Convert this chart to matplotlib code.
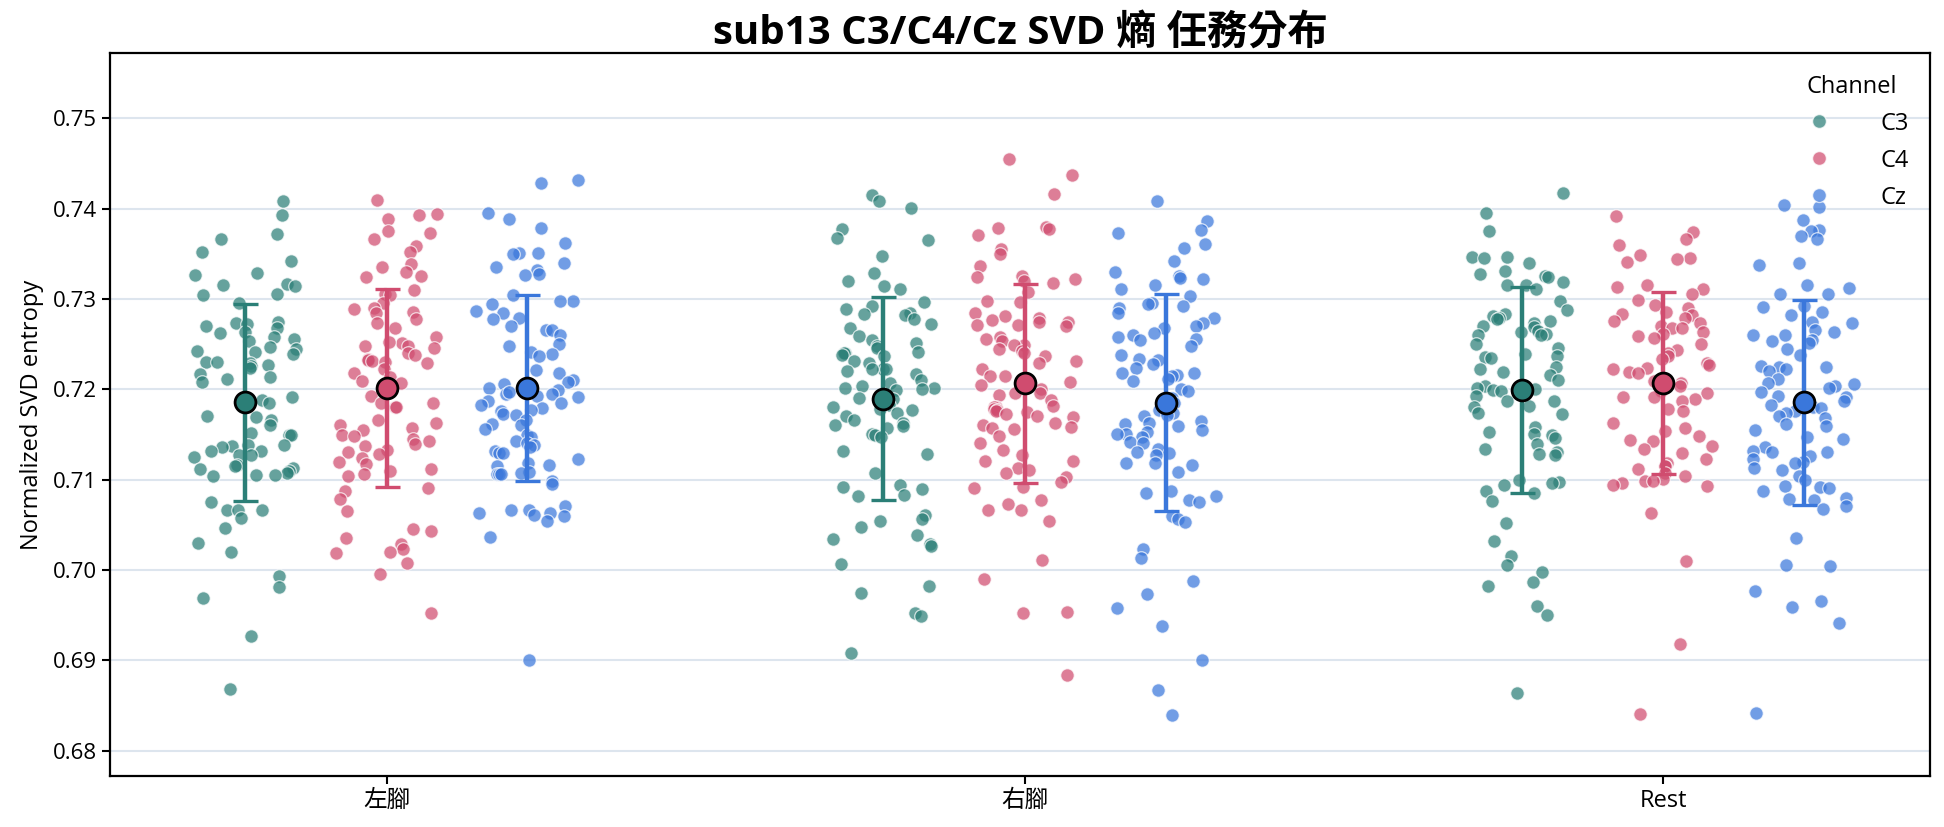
import matplotlib
matplotlib.use('Agg')
import matplotlib.pyplot as plt
from matplotlib.lines import Line2D
import numpy as np

plt.rcParams['font.family'] = ['Open Sans', 'Noto Sans CJK TC', 'DejaVu Sans']

tasks = ['左腳', '右腳', 'Rest']
channels = ['C3', 'C4', 'Cz']

# values, one list per task/channel
left_c3 = [0.7408, 0.7393, 0.7372, 0.7366, 0.7352, 0.7342, 0.7329, 0.7327, 0.7317, 0.7314,
           0.7315, 0.7306, 0.7305, 0.7296, 0.7275, 0.7273, 0.7272, 0.7270, 0.7268, 0.7264,
           0.7262, 0.7258, 0.7256, 0.7253, 0.7247, 0.7245, 0.7243, 0.7241, 0.7239, 0.7230,
           0.7230, 0.7229, 0.7227, 0.7226, 0.7224, 0.7217, 0.7214, 0.7211, 0.7208, 0.7191,
           0.7188, 0.7186, 0.7185, 0.7180, 0.7171, 0.7169, 0.7166, 0.7161, 0.7152, 0.7150,
           0.7149, 0.7138, 0.7137, 0.7136, 0.7138, 0.7132, 0.7132, 0.7127, 0.7127, 0.7125,
           0.7116, 0.7115, 0.7113, 0.7112, 0.7110, 0.7107, 0.7105, 0.7104, 0.7105, 0.7075,
           0.7067, 0.7066, 0.7066, 0.7058, 0.7047, 0.7030, 0.7020, 0.6993, 0.6981, 0.6969,
           0.6927, 0.6868]
left_c4 = [0.7410, 0.7394, 0.7393, 0.7389, 0.7375, 0.7373, 0.7366, 0.7359, 0.7352, 0.7339,
           0.7336, 0.7330, 0.7326, 0.7324, 0.7310, 0.7306, 0.7304, 0.7296, 0.7290, 0.7286,
           0.7285, 0.7289, 0.7278, 0.7274, 0.7268, 0.7258, 0.7251, 0.7252, 0.7248, 0.7248,
           0.7246, 0.7240, 0.7238, 0.7234, 0.7233, 0.7231, 0.7230, 0.7229, 0.7223, 0.7218,
           0.7214, 0.7209, 0.7207, 0.7193, 0.7185, 0.7185, 0.7181, 0.7181, 0.7166, 0.7163,
           0.7160, 0.7157, 0.7155, 0.7150, 0.7148, 0.7145, 0.7143, 0.7139, 0.7137, 0.7133,
           0.7131, 0.7128, 0.7124, 0.7120, 0.7117, 0.7112, 0.7110, 0.7106, 0.7104, 0.7091,
           0.7088, 0.7079, 0.7065, 0.7045, 0.7043, 0.7035, 0.7029, 0.7023, 0.7020, 0.7019,
           0.7008, 0.6996, 0.6952]
left_cz = [0.7432, 0.7429, 0.7395, 0.7389, 0.7379, 0.7362, 0.7351, 0.7350, 0.7351, 0.7340,
           0.7335, 0.7332, 0.7328, 0.7327, 0.7305, 0.7298, 0.7298, 0.7294, 0.7287, 0.7284,
           0.7279, 0.7278, 0.7270, 0.7266, 0.7266, 0.7260, 0.7250, 0.7248, 0.7241, 0.7239,
           0.7237, 0.7221, 0.7218, 0.7210, 0.7208, 0.7206, 0.7202, 0.7195, 0.7199, 0.7197,
           0.7195, 0.7193, 0.7191, 0.7187, 0.7185, 0.7183, 0.7179, 0.7177, 0.7176, 0.7173,
           0.7172, 0.7166, 0.7162, 0.7160, 0.7156, 0.7149, 0.7147, 0.7143, 0.7141, 0.7138,
           0.7136, 0.7132, 0.7129, 0.7129, 0.7123, 0.7118, 0.7116, 0.7115, 0.7109, 0.7107,
           0.7106, 0.7106, 0.7106, 0.7099, 0.7095, 0.7071, 0.7067, 0.7066, 0.7063, 0.7061,
           0.7060, 0.7063, 0.7054, 0.7037, 0.6900]
right_c3 = [0.7415, 0.7409, 0.7401, 0.7377, 0.7368, 0.7365, 0.7348, 0.7329, 0.7320, 0.7314,
            0.7311, 0.7297, 0.7292, 0.7289, 0.7285, 0.7283, 0.7282, 0.7278, 0.7272, 0.7268,
            0.7259, 0.7255, 0.7251, 0.7248, 0.7246, 0.7241, 0.7240, 0.7240, 0.7238, 0.7237,
            0.7231, 0.7229, 0.7223, 0.7223, 0.7222, 0.7220, 0.7217, 0.7210, 0.7207, 0.7204,
            0.7202, 0.7201, 0.7200, 0.7199, 0.7190, 0.7189, 0.7183, 0.7180, 0.7178, 0.7177,
            0.7174, 0.7171, 0.7166, 0.7163, 0.7160, 0.7159, 0.7157, 0.7151, 0.7149, 0.7147,
            0.7132, 0.7128, 0.7107, 0.7094, 0.7092, 0.7090, 0.7083, 0.7082, 0.7061, 0.7056,
            0.7054, 0.7048, 0.7039, 0.7034, 0.7029, 0.7027, 0.7007, 0.6982, 0.6975, 0.6952,
            0.6949, 0.6908]
right_c4 = [0.7455, 0.7437, 0.7416, 0.7380, 0.7379, 0.7377, 0.7371, 0.7355, 0.7350, 0.7337,
            0.7326, 0.7324, 0.7322, 0.7320, 0.7318, 0.7308, 0.7298, 0.7297, 0.7284, 0.7281,
            0.7279, 0.7277, 0.7275, 0.7275, 0.7271, 0.7271, 0.7270, 0.7258, 0.7256, 0.7253,
            0.7249, 0.7249, 0.7245, 0.7243, 0.7240, 0.7237, 0.7231, 0.7229, 0.7223, 0.7215,
            0.7215, 0.7208, 0.7205, 0.7200, 0.7196, 0.7194, 0.7196, 0.7188, 0.7182, 0.7181,
            0.7180, 0.7178, 0.7177, 0.7176, 0.7175, 0.7173, 0.7171, 0.7169, 0.7163, 0.7160,
            0.7158, 0.7156, 0.7157, 0.7148, 0.7141, 0.7133, 0.7127, 0.7121, 0.7121, 0.7113,
            0.7111, 0.7107, 0.7103, 0.7098, 0.7092, 0.7091, 0.7077, 0.7073, 0.7066, 0.7066,
            0.7054, 0.7011, 0.6990, 0.6954, 0.6952, 0.6884]
right_cz = [0.7408, 0.7386, 0.7376, 0.7373, 0.7361, 0.7357, 0.7342, 0.7330, 0.7325, 0.7323,
            0.7322, 0.7315, 0.7311, 0.7303, 0.7296, 0.7295, 0.7292, 0.7290, 0.7285, 0.7279,
            0.7274, 0.7270, 0.7268, 0.7262, 0.7260, 0.7258, 0.7256, 0.7255, 0.7248, 0.7238,
            0.7234, 0.7232, 0.7228, 0.7224, 0.7218, 0.7218, 0.7216, 0.7215, 0.7212, 0.7209,
            0.7200, 0.7198, 0.7190, 0.7185, 0.7181, 0.7177, 0.7174, 0.7172, 0.7171, 0.7165,
            0.7163, 0.7162, 0.7159, 0.7155, 0.7151, 0.7151, 0.7153, 0.7147, 0.7142, 0.7141,
            0.7134, 0.7131, 0.7129, 0.7127, 0.7119, 0.7118, 0.7116, 0.7109, 0.7087, 0.7085,
            0.7082, 0.7078, 0.7075, 0.7060, 0.7057, 0.7053, 0.7023, 0.7013, 0.6988, 0.6973,
            0.6958, 0.6938, 0.6900, 0.6867, 0.6840]
rest_c3 = [0.7417, 0.7395, 0.7375, 0.7347, 0.7347, 0.7345, 0.7340, 0.7331, 0.7328, 0.7326,
           0.7324, 0.7319, 0.7315, 0.7315, 0.7311, 0.7298, 0.7288, 0.7283, 0.7281, 0.7279,
           0.7278, 0.7276, 0.7273, 0.7270, 0.7269, 0.7265, 0.7263, 0.7261, 0.7260, 0.7260,
           0.7250, 0.7246, 0.7239, 0.7237, 0.7236, 0.7235, 0.7225, 0.7222, 0.7219, 0.7216,
           0.7210, 0.7204, 0.7202, 0.7200, 0.7199, 0.7198, 0.7193, 0.7187, 0.7187, 0.7182,
           0.7181, 0.7174, 0.7173, 0.7158, 0.7153, 0.7151, 0.7149, 0.7146, 0.7139, 0.7134,
           0.7131, 0.7128, 0.7127, 0.7100, 0.7097, 0.7096, 0.7094, 0.7087, 0.7085, 0.7076,
           0.7052, 0.7032, 0.7016, 0.7006, 0.6998, 0.6987, 0.6982, 0.6960, 0.6950, 0.6864]
rest_c4 = [0.7392, 0.7374, 0.7366, 0.7360, 0.7349, 0.7345, 0.7344, 0.7341, 0.7315, 0.7313,
           0.7311, 0.7306, 0.7299, 0.7293, 0.7290, 0.7286, 0.7283, 0.7282, 0.7279, 0.7276,
           0.7273, 0.7270, 0.7268, 0.7268, 0.7264, 0.7261, 0.7259, 0.7257, 0.7250, 0.7244,
           0.7240, 0.7237, 0.7234, 0.7229, 0.7227, 0.7224, 0.7222, 0.7219, 0.7218, 0.7209,
           0.7207, 0.7204, 0.7198, 0.7196, 0.7192, 0.7192, 0.7189, 0.7187, 0.7178, 0.7176,
           0.7163, 0.7157, 0.7154, 0.7148, 0.7144, 0.7143, 0.7137, 0.7134, 0.7129, 0.7123,
           0.7118, 0.7115, 0.7115, 0.7112, 0.7107, 0.7104, 0.7101, 0.7099, 0.7099, 0.7096,
           0.7094, 0.7093, 0.7063, 0.7010, 0.6918, 0.6841]
rest_cz = [0.7404, 0.7402, 0.7388, 0.7376, 0.7375, 0.7370, 0.7367, 0.7340, 0.7338, 0.7316,
           0.7312, 0.7306, 0.7306, 0.7292, 0.7291, 0.7286, 0.7282, 0.7275, 0.7274, 0.7266,
           0.7263, 0.7260, 0.7260, 0.7255, 0.7254, 0.7251, 0.7245, 0.7238, 0.7226, 0.7225,
           0.7225, 0.7223, 0.7220, 0.7211, 0.7207, 0.7206, 0.7204, 0.7201, 0.7197, 0.7193,
           0.7191, 0.7187, 0.7183, 0.7181, 0.7179, 0.7176, 0.7174, 0.7171, 0.7168, 0.7162,
           0.7159, 0.7155, 0.7147, 0.7145, 0.7136, 0.7132, 0.7131, 0.7131, 0.7126, 0.7123,
           0.7120, 0.7118, 0.7113, 0.7111, 0.7104, 0.7100, 0.7093, 0.7092, 0.7091, 0.7087,
           0.7080, 0.7079, 0.7077, 0.7071, 0.7068, 0.7036, 0.7004, 0.7006, 0.6977, 0.6966,
           0.6959, 0.6941, 0.6842]

values = {
    ('左腳', 'C3'): left_c3, ('左腳', 'C4'): left_c4, ('左腳', 'Cz'): left_cz,
    ('右腳', 'C3'): right_c3, ('右腳', 'C4'): right_c4, ('右腳', 'Cz'): right_cz,
    ('Rest', 'C3'): rest_c3, ('Rest', 'C4'): rest_c4, ('Rest', 'Cz'): rest_cz,
}

colors = {'C3': '#2B7F77', 'C4': '#D04C6F', 'Cz': '#3A77DB'}
offsets = {'C3': -0.222, 'C4': 0.0, 'Cz': 0.22}

fig = plt.figure(figsize=(19.44, 8.27), dpi=100)
ax = fig.add_axes([0.0566, 0.0617, 0.9362, 0.8738])

rng = np.random.default_rng(13)
for i, task in enumerate(tasks):
    for ch in channels:
        y = np.array(values[(task, ch)])
        x = i + offsets[ch] + rng.uniform(-0.08, 0.08, len(y))
        ax.scatter(x, y, s=95, color=colors[ch], alpha=0.72,
                   edgecolor='white', linewidth=0.9, zorder=2)
        m, sd = y.mean(), y.std(ddof=1)
        ax.errorbar(i + offsets[ch], m, yerr=sd, fmt='none', ecolor=colors[ch],
                    elinewidth=3.2, capsize=9, capthick=2.4, zorder=3)
        ax.plot(i + offsets[ch], m, 'o', ms=15, mfc=colors[ch], mec='black',
                mew=2, zorder=4)

ax.set_xlim(-0.434, 2.418)
ax.set_ylim(0.6772, 0.7572)
ax.set_xticks(range(len(tasks)))
ax.set_xticklabels(tasks, fontsize=17)
ax.set_yticks([0.68, 0.69, 0.70, 0.71, 0.72, 0.73, 0.74, 0.75])
ax.tick_params(axis='y', labelsize=16, length=6, width=1.5)
ax.tick_params(axis='x', length=6, width=1.5)
ax.yaxis.grid(True, color='#dde5ee', linewidth=1.5)
ax.set_axisbelow(True)
for sp in ax.spines.values():
    sp.set_linewidth(1.6)

ax.set_ylabel('Normalized SVD entropy', fontsize=17, labelpad=6)
ax.set_title('sub13 C3/C4/Cz SVD 熵 任務分布', fontsize=29, fontweight='bold', pad=7)

handles = [Line2D([], [], marker='o', ls='none', ms=10, mfc=colors[ch], mec='white',
                  alpha=0.72, label=ch) for ch in channels]
leg = ax.legend(handles=handles, title='Channel', loc='upper right', frameon=False,
                fontsize=17, title_fontsize=17, labelspacing=0.55, handletextpad=1.6)

fig.savefig('out.png', dpi=100, facecolor='white')
